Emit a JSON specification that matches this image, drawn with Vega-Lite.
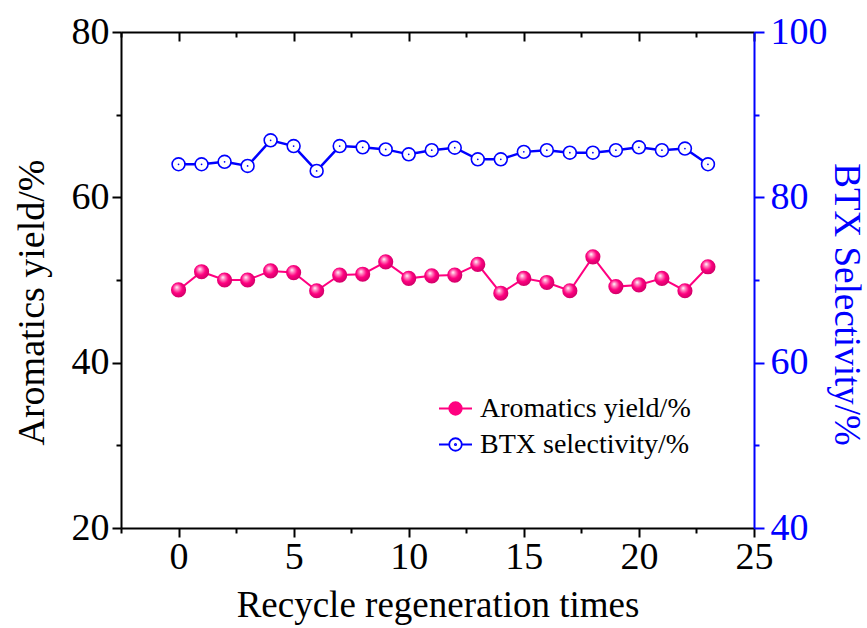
{
  "$schema": "https://vega.github.io/schema/vega-lite/v6.json",
  "width": 633,
  "height": 496,
  "autosize": {"type": "none"},
  "padding": {"left": 121, "top": 32, "right": 113, "bottom": 100},
  "background": "white",
  "config": {
    "view": {"stroke": null},
    "font": "Liberation Serif",
    "axis": {"grid": false, "labelFont": "Liberation Serif", "titleFont": "Liberation Serif", "titleFontWeight": "normal", "labelOverlap": false, "labelFlush": false},
    "legend": {"labelFont": "Liberation Serif"}
  },
  "datasets": {
    "aromatics": [
      {"cycle": 0, "value": 48.8}, {"cycle": 1, "value": 51.0}, {"cycle": 2, "value": 50.0}, {"cycle": 3, "value": 50.0},
      {"cycle": 4, "value": 51.1}, {"cycle": 5, "value": 50.9}, {"cycle": 6, "value": 48.7}, {"cycle": 7, "value": 50.6},
      {"cycle": 8, "value": 50.7}, {"cycle": 9, "value": 52.2}, {"cycle": 10, "value": 50.2}, {"cycle": 11, "value": 50.5},
      {"cycle": 12, "value": 50.6}, {"cycle": 13, "value": 51.9}, {"cycle": 14, "value": 48.4}, {"cycle": 15, "value": 50.2},
      {"cycle": 16, "value": 49.7}, {"cycle": 17, "value": 48.7}, {"cycle": 18, "value": 52.8}, {"cycle": 19, "value": 49.2},
      {"cycle": 20, "value": 49.4}, {"cycle": 21, "value": 50.2}, {"cycle": 22, "value": 48.7}, {"cycle": 23, "value": 51.6}
    ],
    "btx": [
      {"cycle": 0, "value": 84.0}, {"cycle": 1, "value": 84.0}, {"cycle": 2, "value": 84.3}, {"cycle": 3, "value": 83.8},
      {"cycle": 4, "value": 86.9}, {"cycle": 5, "value": 86.2}, {"cycle": 6, "value": 83.2}, {"cycle": 7, "value": 86.2},
      {"cycle": 8, "value": 86.05}, {"cycle": 9, "value": 85.8}, {"cycle": 10, "value": 85.2}, {"cycle": 11, "value": 85.7},
      {"cycle": 12, "value": 86.0}, {"cycle": 13, "value": 84.6}, {"cycle": 14, "value": 84.6}, {"cycle": 15, "value": 85.5},
      {"cycle": 16, "value": 85.7}, {"cycle": 17, "value": 85.4}, {"cycle": 18, "value": 85.4}, {"cycle": 19, "value": 85.7},
      {"cycle": 20, "value": 86.05}, {"cycle": 21, "value": 85.7}, {"cycle": 22, "value": 85.9}, {"cycle": 23, "value": 84.0}
    ]
  },
  "layer": [
    {
      "data": {"name": "aromatics"},
      "mark": {"type": "line", "strokeWidth": 2},
      "encoding": {
        "x": {
          "field": "cycle", "type": "quantitative",
          "scale": {"domain": [-2.5, 25], "nice": false, "zero": false},
          "axis": {
            "orient": "bottom",
            "values": [-2.5, 0, 2.5, 5, 7.5, 10, 12.5, 15, 17.5, 20, 22.5, 25],
            "labelExpr": "datum.value % 5 === 0 ? datum.label : ''",
            "format": "d",
            "tickSize": {"condition": {"test": "datum.value % 5 === 0", "value": 9}, "value": 5},
            "tickWidth": 2, "tickColor": "black",
            "domainWidth": 2, "domainColor": "black",
            "labelFontSize": 38, "labelColor": "black", "labelPadding": 1,
            "title": "Recycle regeneration times", "titleFontSize": 37, "titleColor": "black",
            "titleY": 88, "titleBaseline": "alphabetic"
          }
        },
        "y": {
          "field": "value", "type": "quantitative",
          "scale": {"domain": [20, 80], "nice": false, "zero": false},
          "axis": {
            "orient": "left",
            "values": [20, 30, 40, 50, 60, 70, 80],
            "labelExpr": "datum.value % 20 === 0 ? datum.label : ''",
            "tickSize": {"condition": {"test": "datum.value % 20 === 0", "value": 9}, "value": 5},
            "tickWidth": 2, "tickColor": "black",
            "domainWidth": 2, "domainColor": "black",
            "labelFontSize": 38, "labelColor": "black", "labelPadding": 3,
            "title": "Aromatics yield/%", "titleFontSize": 38, "titleColor": "black",
            "titleAngle": -90, "titleX": -89, "titleY": 270, "titleAlign": "center", "titleBaseline": "middle"
          }
        },
        "color": {
          "datum": "Aromatics yield/%", "type": "nominal",
          "scale": {"domain": ["Aromatics yield/%", "BTX selectivity/%"], "range": ["#ff0080", "#0000ff"]},
          "legend": {
            "orient": "none", "legendX": 317, "legendY": 359, "title": null, "padding": 0,
            "symbolType": "M-1,0H-0.38M0.38,0H1M-0.38,0A0.38,0.38 0 1,0 0.38,0A0.38,0.38 0 1,0 -0.38,0ZM-0.04,0A0.04,0.04 0 1,0 0.04,0A0.04,0.04 0 1,0 -0.04,0Z",
            "symbolSize": 1089, "symbolStrokeWidth": 1.8,
            "labelFont": "Liberation Serif", "labelFontSize": 28, "labelColor": "black",
            "labelOffset": 7, "rowPadding": 4, "labelLimit": 400,
            "encode": {
              "symbols": {
                "update": {
                  "fill": [
                    {"test": "datum.value === 'BTX selectivity/%'", "value": "white"},
                    {"value": "#ff0080"}
                  ],
                  "fillOpacity": {"value": 1},
                  "opacity": {"value": 1}
                }
              }
            }
          }
        }
      }
    },
    {
      "data": {"name": "aromatics"},
      "mark": {
        "type": "point", "shape": "circle", "filled": true, "size": 230, "opacity": 1, "strokeWidth": 0,
        "fill": {
          "gradient": "radial", "x1": 0.38, "y1": 0.32, "r1": 0, "x2": 0.45, "y2": 0.45, "r2": 0.6,
          "stops": [
            {"offset": 0, "color": "#ffffff"},
            {"offset": 0.22, "color": "#ff8cc4"},
            {"offset": 0.55, "color": "#ff0080"},
            {"offset": 1, "color": "#c80064"}
          ]
        }
      },
      "encoding": {
        "x": {"field": "cycle", "type": "quantitative", "axis": null},
        "y": {"field": "value", "type": "quantitative", "scale": {"domain": [20, 80], "nice": false, "zero": false}, "axis": null}
      }
    },
    {
      "data": {"name": "btx"},
      "mark": {"type": "line", "strokeWidth": 2.5},
      "encoding": {
        "x": {"field": "cycle", "type": "quantitative", "axis": null},
        "y": {
          "field": "value", "type": "quantitative",
          "scale": {"domain": [40, 100], "nice": false, "zero": false},
          "axis": {
            "orient": "right",
            "values": [40, 50, 60, 70, 80, 90, 100],
            "labelExpr": "datum.value % 20 === 0 ? datum.label : ''",
            "tickSize": {"condition": {"test": "datum.value % 20 === 0", "value": 10}, "value": 5},
            "tickWidth": 2, "tickColor": "#0000ff",
            "domainWidth": 2, "domainColor": "#0000ff",
            "labelFontSize": 38, "labelColor": "#0000ff", "labelPadding": 6,
            "title": "BTX Selectivity/%", "titleFontSize": 37, "titleColor": "#0000ff",
            "titleAngle": 90, "titleX": 91, "titleY": 272, "titleAlign": "center", "titleBaseline": "middle"
          }
        },
        "color": {"datum": "BTX selectivity/%", "type": "nominal"}
      }
    },
    {
      "data": {"name": "btx"},
      "mark": {"type": "point", "shape": "circle", "filled": true, "fill": "white", "stroke": "#0000ff", "strokeWidth": 1.6, "size": 165, "opacity": 1},
      "encoding": {
        "x": {"field": "cycle", "type": "quantitative", "axis": null},
        "y": {"field": "value", "type": "quantitative", "scale": {"domain": [40, 100], "nice": false, "zero": false}, "axis": null}
      }
    },
    {
      "data": {"name": "btx"},
      "mark": {"type": "point", "shape": "circle", "filled": true, "color": "#0000ff", "size": 3, "opacity": 1},
      "encoding": {
        "x": {"field": "cycle", "type": "quantitative", "axis": null},
        "y": {"field": "value", "type": "quantitative", "scale": {"domain": [40, 100], "nice": false, "zero": false}, "axis": null}
      }
    },
    {
      "data": {"name": "btx"},
      "mark": {"type": "point", "opacity": 0},
      "encoding": {
        "x": {
          "field": "cycle", "type": "quantitative",
          "axis": {
            "orient": "bottom", "offset": -496,
            "values": [-2.5, 0, 2.5, 5, 7.5, 10, 12.5, 15, 17.5, 20, 22.5, 25],
            "labels": false, "title": null,
            "tickSize": {"condition": {"test": "datum.value % 5 === 0", "value": 9}, "value": 5},
            "tickWidth": 2, "tickColor": "black",
            "domainWidth": 2, "domainColor": "black"
          }
        },
        "y": {"field": "value", "type": "quantitative", "scale": {"domain": [40, 100], "nice": false, "zero": false}, "axis": null}
      }
    }
  ],
  "resolve": {"scale": {"y": "independent"}, "axis": {"x": "independent"}}
}
